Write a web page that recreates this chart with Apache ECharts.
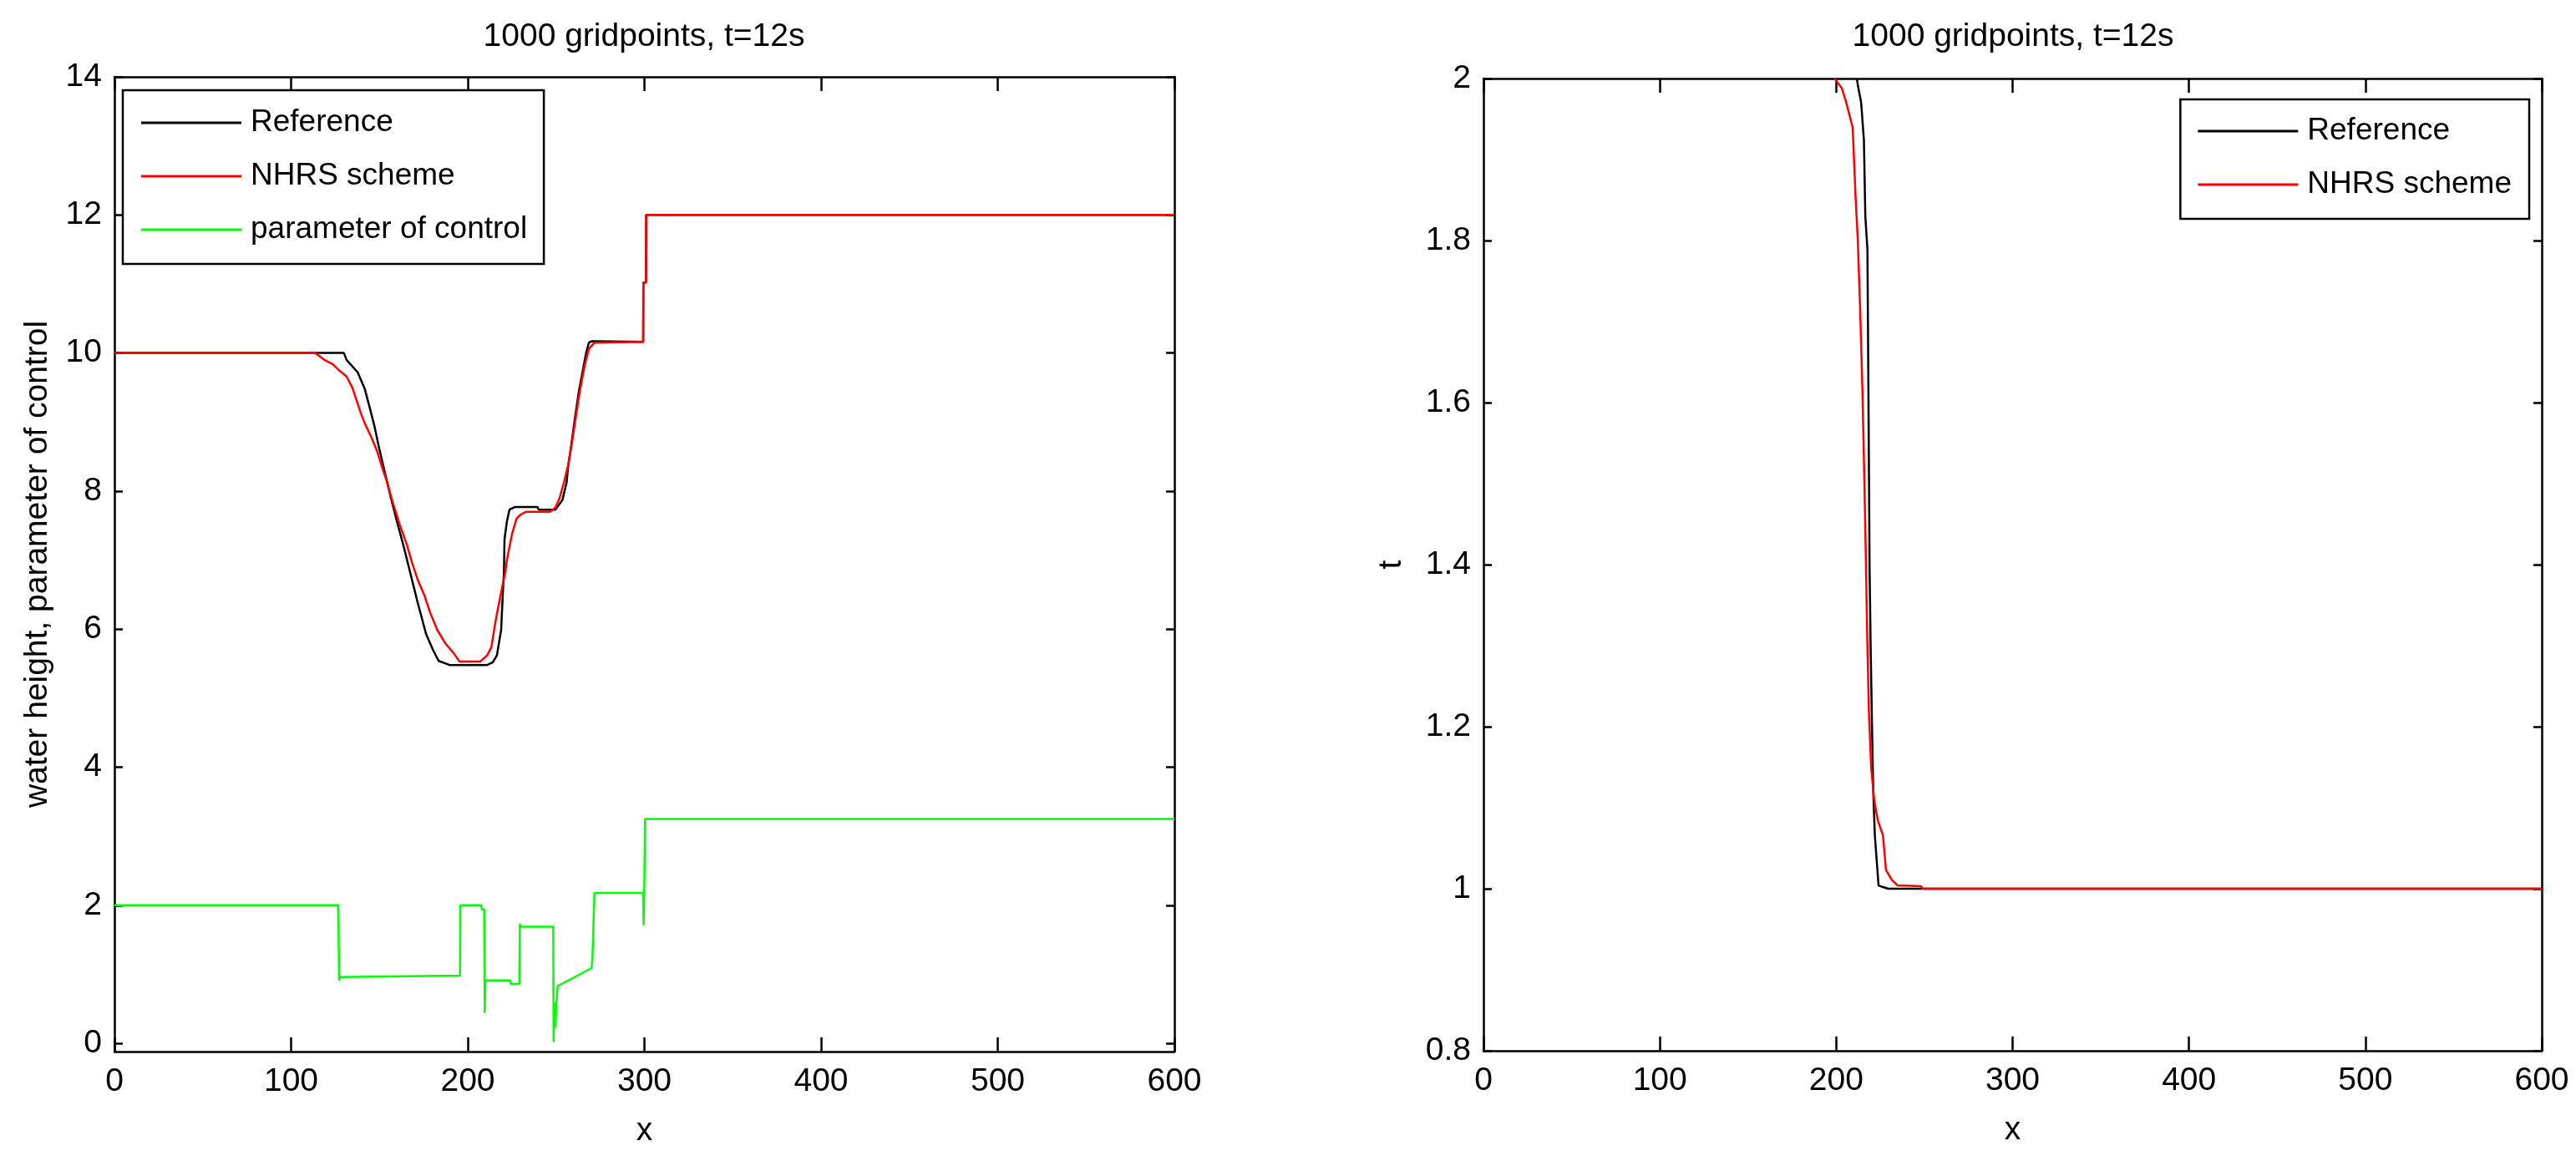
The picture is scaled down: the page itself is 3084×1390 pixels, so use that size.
<!DOCTYPE html>
<html>
<head>
<meta charset="utf-8">
<script src="https://cdn.jsdelivr.net/npm/echarts@6/dist/echarts.min.js"></script>
<style>
html,body{margin:0;padding:0;background:#fff;}
#chart{width:3084px;height:1390px;}
</style>
</head>
<body>
<div id="chart"></div>
<script>
// ---- data ----
const titleText = '1000 gridpoints, t=12s';
const xTicks = [0, 100, 200, 300, 400, 500, 600];
const leftYTicks = [0, 2, 4, 6, 8, 10, 12, 14];
const rightYTicks = [0.8, 1, 1.2, 1.4, 1.6, 1.8, 2];
const seriesNames = ['Reference', 'NHRS scheme', 'parameter of control'];

// left panel: water height (Reference)
const refLeft = [[0,10.0],[129.9,10.0],[131.4,9.90],[137.7,9.72],[141.7,9.48],[144.8,9.18],[147.2,8.94],[149.6,8.65],[152.7,8.31],[156.6,7.89],[159.8,7.57],[163.7,7.20],[167.7,6.79],[171.6,6.39],[176.4,5.93],[180.3,5.70],[183.5,5.54],[189.7,5.48],[211.0,5.48],[214.2,5.52],[216.5,5.62],[218.9,5.99],[219.7,6.43],[220.5,6.84],[220.8,7.30],[222.1,7.55],[223.6,7.73],[226.8,7.77],[239.4,7.77],[240.2,7.73],[249.6,7.73],[253.6,7.87],[256.0,8.13],[256.7,8.33],[258.3,8.61],[260.7,9.06],[263.0,9.46],[265.4,9.78],[267.0,10.00],[268.6,10.15],[270.1,10.17],[299.3,10.16],[299.4,11.02],[300.9,11.02],[301.0,12.0],[600,12.0]];
// left panel: water height (NHRS scheme)
const nhrsLeft = [[0,10.0],[113.6,10.0],[118.8,9.90],[123.5,9.84],[127.5,9.74],[131.4,9.66],[134.6,9.50],[137.0,9.32],[139.3,9.14],[141.7,8.98],[145.6,8.77],[148.8,8.57],[151.2,8.37],[154.3,8.13],[157.4,7.85],[161.4,7.52],[165.3,7.24],[168.5,6.96],[171.6,6.72],[175.6,6.48],[178.7,6.24],[182.7,5.99],[187.4,5.79],[192.1,5.65],[195.3,5.53],[207.1,5.53],[211.0,5.62],[213.4,5.74],[215.7,6.11],[218.1,6.43],[219.7,6.63],[221.3,6.83],[222.1,6.99],[223.6,7.19],[225.2,7.39],[227.6,7.60],[230.0,7.66],[233.1,7.70],[246.5,7.70],[249.6,7.76],[252.0,7.90],[254.4,8.12],[256.7,8.36],[259.1,8.72],[261.5,9.13],[263.8,9.50],[266.2,9.82],[268.6,10.06],[271.7,10.15],[299.3,10.16],[299.4,11.02],[300.9,11.02],[301.0,12.0],[600,12.0]];
// left panel: parameter of control
const controlLeft = [[0,2.0],[126.7,2.0],[127.2,0.91],[127.7,0.96],[128.3,0.98],[195.6,0.98],[195.8,2.0],[207.6,2.0],[208.0,1.94],[209.3,1.94],[209.6,0.44],[210.0,0.91],[224.1,0.91],[224.4,0.86],[229.2,0.86],[229.5,1.73],[229.9,1.69],[248.4,1.69],[248.6,0.02],[249.1,0.58],[249.6,0.23],[250.2,0.60],[250.9,0.83],[270.1,1.09],[270.6,1.25],[271.7,2.18],[299.3,2.18],[299.6,1.71],[300.0,2.40],[300.4,3.25],[600,3.25]];
// right panel: t (Reference)
const refRight = [[211.7,2.0],[212.4,1.99],[214.1,1.971],[215.7,1.924],[216.5,1.83],[217.7,1.789],[218.3,1.6],[218.9,1.4],[219.5,1.3],[220.3,1.2],[221.0,1.12],[221.9,1.066],[224.0,1.004],[226.5,1.002],[229.4,1.0],[600,1.0]];
// right panel: t (NHRS scheme)
const nhrsRight = [[199.1,2.0],[203.2,1.988],[205.6,1.971],[207.6,1.954],[209.3,1.94],[210.0,1.905],[210.9,1.857],[212.2,1.802],[213.5,1.72],[214.8,1.62],[215.8,1.52],[216.7,1.42],[217.5,1.32],[218.5,1.22],[219.8,1.15],[221.5,1.11],[223.5,1.085],[226.5,1.066],[228.2,1.023],[231.5,1.011],[234.8,1.004],[248.1,1.003],[249.0,1.0],[600,1.0]];

// ---- chart ----
const FONT = "'Liberation Sans',Arial,Helvetica,sans-serif";
const FS = 39;
const LEG_FS = 37;
const BLACK = '#000000', RED = '#ff0000', GREEN = '#00ff00';
const LW = 2.5;

function xAxisPair(gridIndex) {
  const common = {
    type: 'value', gridIndex: gridIndex, min: 0, max: 600, interval: 100,
    axisLine: { show: true, onZero: false, lineStyle: { color: BLACK, width: LW } },
    axisTick: { show: true, inside: true, length: 17, lineStyle: { color: BLACK, width: LW } },
    splitLine: { show: false }
  };
  return [
    Object.assign({}, common, {
      position: 'bottom',
      axisLabel: { show: true, color: BLACK, fontSize: FS, fontFamily: FONT, margin: 17 },
      name: 'x', nameLocation: 'middle', nameGap: 76,
      nameTextStyle: { color: BLACK, fontSize: FS, fontFamily: FONT }
    }),
    Object.assign({}, common, { position: 'top', axisLabel: { show: false } })
  ];
}

const leftYCommon = {
  type: 'value', gridIndex: 0, min: -0.12, max: 14,
  axisLine: { show: true, onZero: false, lineStyle: { color: BLACK, width: LW } },
  axisTick: { show: true, inside: true, length: 10, customValues: leftYTicks, lineStyle: { color: BLACK, width: LW } },
  splitLine: { show: false }
};
const rightYCommon = {
  type: 'value', gridIndex: 1, min: 0.8, max: 2, interval: 0.2,
  axisLine: { show: true, onZero: false, lineStyle: { color: BLACK, width: LW } },
  axisTick: { show: true, inside: true, length: 10, lineStyle: { color: BLACK, width: LW } },
  splitLine: { show: false }
};

const legendCommon = {
  orient: 'vertical', icon: 'rect', itemWidth: 120, itemHeight: 3, itemGap: 14,
  borderColor: BLACK, borderWidth: LW, backgroundColor: '#ffffff',
  itemStyle: { borderWidth: 0 },
  textStyle: { color: BLACK, fontSize: LEG_FS, fontFamily: FONT, lineHeight: 50, padding: [0, 0, 0, 6] },
  selectedMode: false
};

function lineSeries(name, data, color, xi, yi) {
  return {
    type: 'line', name: name, data: data, xAxisIndex: xi, yAxisIndex: yi,
    color: color, showSymbol: false, symbol: 'none', animation: false,
    lineStyle: { color: color, width: LW }, emphasis: { disabled: true }, z: 3
  };
}

const option = {
  backgroundColor: '#ffffff',
  animation: false,
  textStyle: { fontFamily: FONT },
  grid: [
    { left: 137, top: 92, width: 1269, height: 1167, outerBoundsMode: 'none', containLabel: false },
    { left: 1776, top: 94, width: 1267, height: 1164, outerBoundsMode: 'none', containLabel: false }
  ],
  xAxis: [].concat(xAxisPair(0), xAxisPair(1)),
  yAxis: [
    Object.assign({}, leftYCommon, {
      position: 'left',
      axisLabel: { show: true, customValues: leftYTicks, color: BLACK, fontSize: FS, fontFamily: FONT, margin: 15 },
      name: 'water height, parameter of control', nameLocation: 'middle', nameGap: 72,
      nameTextStyle: { color: BLACK, fontSize: FS, fontFamily: FONT }
    }),
    Object.assign({}, leftYCommon, { position: 'right', axisLabel: { show: false } }),
    Object.assign({}, rightYCommon, {
      position: 'left',
      axisLabel: { show: true, color: BLACK, fontSize: FS, fontFamily: FONT, margin: 15 },
      name: 't', nameLocation: 'middle', nameGap: 90,
      nameTextStyle: { color: BLACK, fontSize: FS, fontFamily: FONT }
    }),
    Object.assign({}, rightYCommon, { position: 'right', axisLabel: { show: false } })
  ],
  legend: [
    Object.assign({}, legendCommon, {
      left: 147, top: 108, padding: [14, 20, 16, 22],
      data: seriesNames.slice(0, 3)
    }),
    Object.assign({}, legendCommon, {
      right: 56, top: 119, padding: [13, 21, 16, 21],
      data: seriesNames.slice(0, 2)
    })
  ],
  graphic: [
    { type: 'text', x: 771, y: 44, style: { text: titleText, fill: BLACK, font: FS + 'px ' + FONT, align: 'center', verticalAlign: 'middle' } },
    { type: 'text', x: 2410, y: 44, style: { text: titleText, fill: BLACK, font: FS + 'px ' + FONT, align: 'center', verticalAlign: 'middle' } }
  ],
  series: [
    lineSeries(seriesNames[0], refLeft, BLACK, 0, 0),
    lineSeries(seriesNames[1], nhrsLeft, RED, 0, 0),
    lineSeries(seriesNames[2], controlLeft, GREEN, 0, 0),
    lineSeries(seriesNames[0], refRight, BLACK, 2, 2),
    lineSeries(seriesNames[1], nhrsRight, RED, 2, 2)
  ]
};

const chart = echarts.init(document.getElementById('chart'), null, { renderer: 'canvas' });
chart.setOption(option);
</script>
</body>
</html>
